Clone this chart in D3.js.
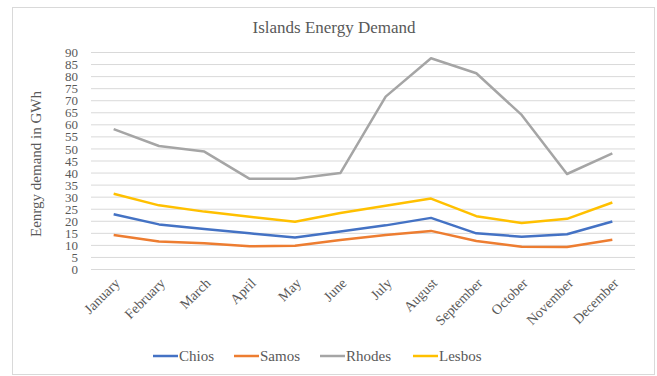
<!DOCTYPE html>
<html>
<head>
  <meta charset="utf-8">
  <script src="https://d3js.org/d3.v7.min.js"></script>
  <style>
  body { margin:0; background:#fff; }
  text { font-family: "Liberation Serif", "Times New Roman", serif; fill:#595959; }
  .grid line { stroke:#d9d9d9; stroke-width:1; }
  .grid path { display:none; }
  .axis path, .axis line { display:none; }
  .y.axis text { font-size:13px; }
  .x.axis text { font-size:14px; }
</style>
</head>
<body>
<script>

  var months = ["January","February","March","April","May","June","July","August","September","October","November","December"];
  var chios  = [22.7, 18.5, 16.6, 14.8, 13.1, 15.6, 18.1, 21.2, 14.8, 13.4, 14.4, 19.7];
  var samos  = [14.1, 11.4, 10.7, 9.4, 9.6, 12.0, 14.1, 15.8, 11.6, 9.2, 9.1, 12.1];
  var rhodes = [58.0, 51.0, 48.7, 37.4, 37.4, 39.8, 71.5, 87.4, 81.2, 63.9, 39.4, 48.0];
  var lesbos = [31.2, 26.4, 23.8, 21.7, 19.6, 23.2, 26.2, 29.2, 21.9, 19.1, 20.8, 27.6];
  var seriesNames = ["Chios", "Samos", "Rhodes", "Lesbos"];
  var colors = ["#4472C4", "#ED7D31", "#A5A5A5", "#FFC000"];
  var yTicks = d3.range(0, 95, 5);

  var W = 657, H = 376;
  var margin = {top: 52, left: 91, right: 22, bottom: 107};
  var width = W - margin.left - margin.right,
      height = H - margin.top - margin.bottom;

  var root = d3.select("body").append("svg")
    .attr("width", W).attr("height", H);

  root.append("rect")
    .attr("x", 12.5).attr("y", 7.5).attr("width", 642).attr("height", 367)
    .attr("fill", "#fff").attr("stroke", "#d9d9d9");

  root.append("text")
    .attr("x", 334).attr("y", 33)
    .attr("text-anchor", "middle")
    .style("font-size", "17px")
    .text("Islands Energy Demand");

  var svg = root.append("g")
    .attr("transform", "translate(" + margin.left + "," + margin.top + ")");

  var x = d3.scaleBand().domain(months).range([0, width]);
  var y = d3.scaleLinear().domain([0, 90]).range([height, 0]);

  svg.append("g")
    .attr("class", "grid")
    .call(d3.axisLeft(y).tickValues(yTicks).tickSize(-width).tickFormat(""));

  svg.append("g")
    .attr("class", "y axis")
    .call(d3.axisLeft(y).tickValues(yTicks).tickSize(0).tickPadding(13))
    .selectAll("text").attr("dy", "0.35em");

  svg.append("g")
    .attr("class", "x axis")
    .attr("transform", "translate(0," + height + ")")
    .call(d3.axisBottom(x).tickSize(0))
    .selectAll("text")
      .style("text-anchor", "end")
      .attr("x", 0).attr("y", 0)
      .attr("dy", 0)
      .attr("transform", "translate(7,15) rotate(-45)");

  root.append("text")
    .attr("transform", "translate(41,164) rotate(-90)")
    .attr("text-anchor", "middle")
    .style("font-size", "15px")
    .text("Eenrgy demand in GWh");

  var allSeries = [chios, samos, rhodes, lesbos];
  var line = d3.line()
    .x(function(d, i) { return x(months[i]) + x.bandwidth() / 2; })
    .y(function(d) { return y(d); });

  // draw order as in reference: Chios, Samos, Rhodes, Lesbos
  allSeries.forEach(function(s, k) {
    svg.append("path")
      .datum(s)
      .attr("fill", "none")
      .attr("stroke", colors[k])
      .attr("stroke-width", 2.5)
      .attr("stroke-linejoin", "round")
      .attr("d", line);
  });

  var legendX = [153, 234, 320, 413];
  var legend = root.append("g").attr("transform", "translate(0,356)");
  seriesNames.forEach(function(n, k) {
    legend.append("line")
      .attr("x1", legendX[k]).attr("x2", legendX[k] + 25)
      .attr("y1", 0).attr("y2", 0)
      .attr("stroke", colors[k]).attr("stroke-width", 2.5);
    legend.append("text")
      .attr("x", legendX[k] + 26).attr("y", 0).attr("dy", "0.35em")
      .style("font-size", "15px")
      .text(n);
  });

</script>
</body>
</html>
